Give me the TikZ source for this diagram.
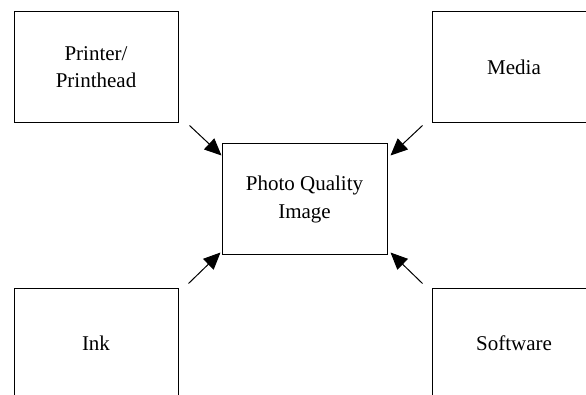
\documentclass[tikz,border=0pt]{standalone}
\usepackage{fontspec}
\setmainfont{Liberation Serif}
\usetikzlibrary{arrows.meta,calc}
\begin{document}
\begin{tikzpicture}[x=1pt,y=-1pt,
  boxnode/.style={draw,line width=1pt,minimum width=164pt,minimum height=111pt,inner sep=0pt,align=center,
    font=\fontsize{21}{27}\selectfont},
  centerbox/.style={draw,line width=1pt,minimum width=165pt,minimum height=111pt,inner sep=0pt,align=center,
    font=\fontsize{21}{27.5}\selectfont},
  feed/.style={line width=1pt,-{Triangle[length=17pt,width=15pt]}}]
\useasboundingbox (0,0) rectangle (586,395);
\clip (0,0) rectangle (586,395);
\node[boxnode] (printer) at (96,67.5) {Printer/\\Printhead};
\node[boxnode] (media) at (514,67.5) {Media};
\node[boxnode] (ink) at (96,343.5) {Ink};
\node[boxnode] (software) at (514,343.5) {Software};
\node[centerbox] (photo) at (304.5,199.5) {Photo Quality\\Image};
\coordinate (s1) at ($(printer.south east)+(11,2)$);
\coordinate (s2) at ($(media.south west)+(-9,2)$);
\coordinate (s3) at ($(ink.north east)+(10,-4)$);
\coordinate (s4) at ($(software.north west)+(-9,-4)$);
\draw[feed] (s1) -- ($(photo.north west)+(0,12)$);
\draw[feed] (s2) -- ($(photo.north east)+(3,12)$);
\draw[feed] (s3) -- ($(photo.south west)+(-1,-3)$);
\draw[feed] (s4) -- ($(photo.south east)+(3,-3)$);
\end{tikzpicture}
\end{document}
